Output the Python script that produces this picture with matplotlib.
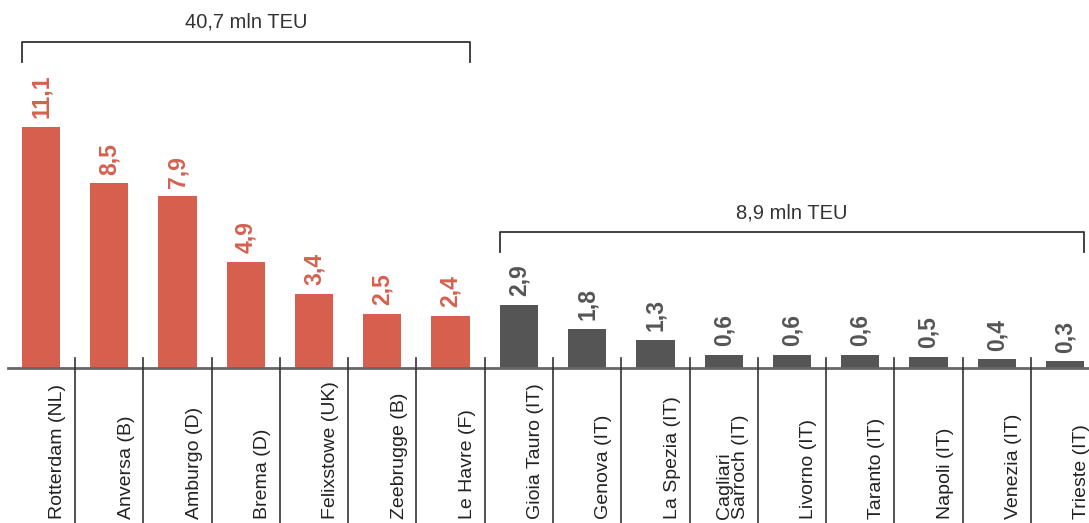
import matplotlib as mpl
mpl.use("Agg")
import matplotlib.pyplot as plt

plt.rcParams['font.family'] = ['Liberation Sans', 'DejaVu Sans']

ports = ["Rotterdam (NL)", "Anversa (B)", "Amburgo (D)", "Brema (D)",
         "Felixstowe (UK)", "Zeebrugge (B)", "Le Havre (F)",
         "Gioia Tauro (IT)", "Genova (IT)", "La Spezia (IT)",
         "Cagliari\nSarroch (IT)", "Livorno (IT)", "Taranto (IT)",
         "Napoli (IT)", "Venezia (IT)", "Trieste (IT)"]
teu = [11.1, 8.5, 7.9, 4.9, 3.4, 2.5, 2.4,
       2.9, 1.8, 1.3, 0.6, 0.6, 0.6, 0.5, 0.4, 0.3]
n_europe = 7
group_labels = ["40,7 mln TEU", "8,9 mln TEU"]

RED = "#d6604d"
GREY = "#555555"

fig = plt.figure(figsize=(10.89, 5.23), dpi=100)
ax = fig.add_axes([0, 0, 1, 1])
ax.set_xlim(-0.6006, 15.3515)
ax.set_ylim(-7.14, 16.95)
ax.axis("off")

colors = [RED if i < n_europe else GREY for i in range(len(teu))]
w = 0.56
ax.bar(range(len(teu)), teu, width=w, color=colors, zorder=2)

# value labels above the bars
for i, v in enumerate(teu):
    ax.text(i, v + 0.4, f"{v:.1f}".replace(".", ","), rotation=90,
            ha="center", va="bottom", fontsize=16.5, fontweight="bold",
            color=colors[i])

# baseline and separators between ports
ax.plot([-0.48, 15.4], [0, 0], color="#666666", lw=2, zorder=3,
        clip_on=False)
for i in range(len(teu) - 1):
    ax.plot([i + 0.5, i + 0.5], [0.46, -7.3], color="#333333", lw=1.2,
            zorder=3, clip_on=False)

# port names, rotated, sitting at the bottom
for i, name in enumerate(ports):
    ax.text(i + 0.37, -6.95, name, rotation=90, ha="right", va="bottom",
            multialignment="left", fontsize=14, color="#222222",
            linespacing=0.9)

# brackets with group totals
def bracket(x0, x1, y, label):
    ax.plot([x0, x0, x1, x1], [y - 0.92, y, y, y - 0.92],
            color="#333333", lw=1.3, clip_on=False)
    ax.text((x0 + x1) / 2, y + 0.9, label, ha="center", va="center",
            fontsize=14.5, color="#333333")

bracket(-w / 2, n_europe - 1 + w / 2, 15.02, group_labels[0])
bracket(n_europe - w / 2, len(teu) - 1 + w / 2, 6.26, group_labels[1])

fig.savefig("out.png", dpi=100)
